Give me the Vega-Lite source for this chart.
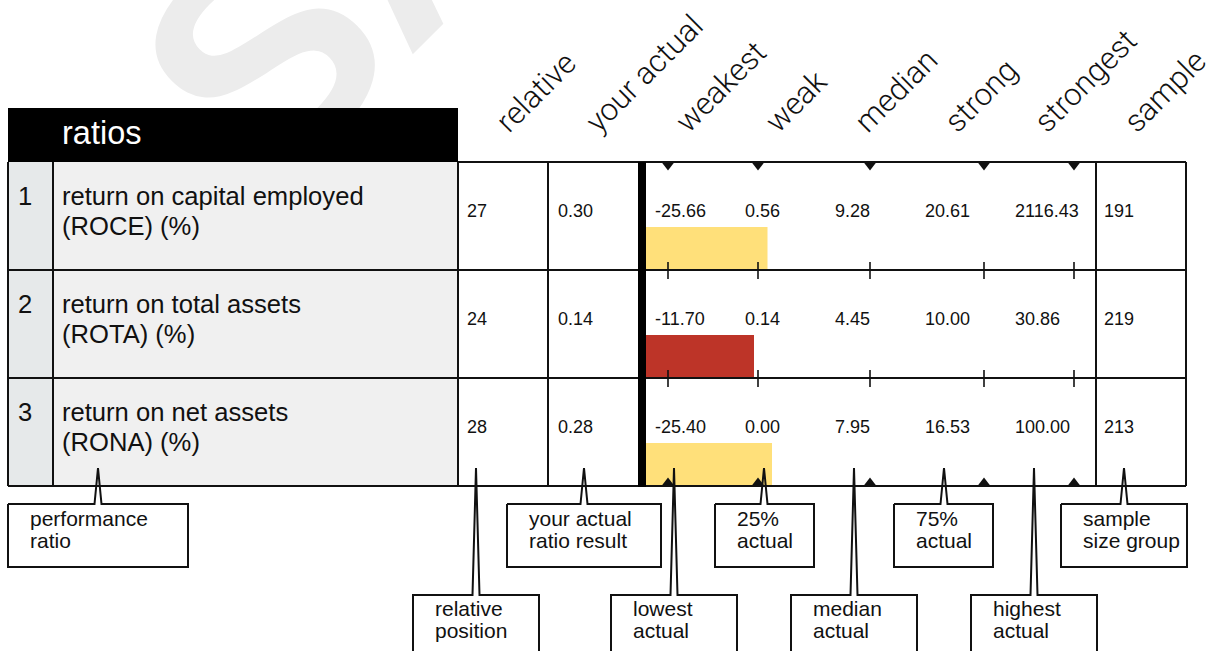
{
 "$schema": "https://vega.github.io/schema/vega-lite/v6.json",
 "width": 1215, "height": 651, "padding": 0,
 "autosize": {"type": "none"},
 "background": "#ffffff",
 "config": {"view": {"stroke": null}, "text": {"font": "Liberation Sans"}},
 "datasets": {
  "table": [
   {"row": 1, "num": "1", "label": "return on capital employed\n(ROCE) (%)", "relative": 27, "actual": "0.30", "weakest": "-25.66", "weak": "0.56", "median": "9.28", "strong": "20.61", "strongest": "2116.43", "sample": 191},
   {"row": 2, "num": "2", "label": "return on total assets\n(ROTA) (%)", "relative": 24, "actual": "0.14", "weakest": "-11.70", "weak": "0.14", "median": "4.45", "strong": "10.00", "strongest": "30.86", "sample": 219},
   {"row": 3, "num": "3", "label": "return on net assets\n(RONA) (%)", "relative": 28, "actual": "0.28", "weakest": "-25.40", "weak": "0.00", "median": "7.95", "strong": "16.53", "strongest": "100.00", "sample": 213}
  ],
  "callouts": [
   {"id":"perf","i":0,"x":8,"y":504},{"id":"perf","i":1,"x":94.5,"y":504},{"id":"perf","i":2,"x":98,"y":468},{"id":"perf","i":3,"x":101.5,"y":504},{"id":"perf","i":4,"x":188,"y":504},{"id":"perf","i":5,"x":188,"y":567},{"id":"perf","i":6,"x":8,"y":567},{"id":"perf","i":7,"x":8,"y":504},
   {"id":"act","i":0,"x":507,"y":504},{"id":"act","i":1,"x":580.5,"y":504},{"id":"act","i":2,"x":584,"y":468},{"id":"act","i":3,"x":587.5,"y":504},{"id":"act","i":4,"x":661,"y":504},{"id":"act","i":5,"x":661,"y":567},{"id":"act","i":6,"x":507,"y":567},{"id":"act","i":7,"x":507,"y":504},
   {"id":"p25","i":0,"x":715,"y":504},{"id":"p25","i":1,"x":760.5,"y":504},{"id":"p25","i":2,"x":764,"y":468},{"id":"p25","i":3,"x":767.5,"y":504},{"id":"p25","i":4,"x":814,"y":504},{"id":"p25","i":5,"x":814,"y":567},{"id":"p25","i":6,"x":715,"y":567},{"id":"p25","i":7,"x":715,"y":504},
   {"id":"p75","i":0,"x":894,"y":504},{"id":"p75","i":1,"x":940.5,"y":504},{"id":"p75","i":2,"x":944,"y":468},{"id":"p75","i":3,"x":947.5,"y":504},{"id":"p75","i":4,"x":993,"y":504},{"id":"p75","i":5,"x":993,"y":567},{"id":"p75","i":6,"x":894,"y":567},{"id":"p75","i":7,"x":894,"y":504},
   {"id":"samp","i":0,"x":1061,"y":504},{"id":"samp","i":1,"x":1120.5,"y":504},{"id":"samp","i":2,"x":1124,"y":468},{"id":"samp","i":3,"x":1127.5,"y":504},{"id":"samp","i":4,"x":1187,"y":504},{"id":"samp","i":5,"x":1187,"y":567},{"id":"samp","i":6,"x":1061,"y":567},{"id":"samp","i":7,"x":1061,"y":504},
   {"id":"rel","i":0,"x":413,"y":651},{"id":"rel","i":1,"x":413,"y":595},{"id":"rel","i":2,"x":472.5,"y":595},{"id":"rel","i":3,"x":476,"y":468},{"id":"rel","i":4,"x":479.5,"y":595},{"id":"rel","i":5,"x":539,"y":595},{"id":"rel","i":6,"x":539,"y":651},
   {"id":"low","i":0,"x":611,"y":651},{"id":"low","i":1,"x":611,"y":595},{"id":"low","i":2,"x":670.5,"y":595},{"id":"low","i":3,"x":674,"y":468},{"id":"low","i":4,"x":677.5,"y":595},{"id":"low","i":5,"x":737,"y":595},{"id":"low","i":6,"x":737,"y":651},
   {"id":"med","i":0,"x":791,"y":651},{"id":"med","i":1,"x":791,"y":595},{"id":"med","i":2,"x":850.5,"y":595},{"id":"med","i":3,"x":854,"y":468},{"id":"med","i":4,"x":857.5,"y":595},{"id":"med","i":5,"x":917,"y":595},{"id":"med","i":6,"x":917,"y":651},
   {"id":"high","i":0,"x":971,"y":651},{"id":"high","i":1,"x":971,"y":595},{"id":"high","i":2,"x":1030.5,"y":595},{"id":"high","i":3,"x":1034,"y":468},{"id":"high","i":4,"x":1037.5,"y":595},{"id":"high","i":5,"x":1097,"y":595},{"id":"high","i":6,"x":1097,"y":651}
  ]
 },
 "resolve": {"scale": {"x": "independent", "y": "independent", "color": "independent"}},
 "layer": [
  {
   "data": {"values": [{"w": "SAMPLE", "x": 266, "y": 201}]},
   "mark": {"type": "text", "angle": 315, "fontSize": 300, "fontWeight": "bold", "color": "#ececec", "align": "left", "baseline": "alphabetic"},
   "encoding": {
    "x": {"field": "x", "type": "quantitative", "scale": {"domain": [0,1215], "range": [0,1215], "nice": false, "zero": false}, "axis": null},
    "y": {"field": "y", "type": "quantitative", "scale": {"domain": [0,651], "range": [0,651], "nice": false, "zero": false}, "axis": null},
    "text": {"field": "w"}
   }
  },
  {
   "data": {"values": [
    {"part": "header", "x": 8, "x2": 458, "y": 108, "y2": 162},
    {"part": "num", "x": 8, "x2": 53, "y": 162, "y2": 486},
    {"part": "label", "x": 53, "x2": 458, "y": 162, "y2": 486}
   ]},
   "mark": {"type": "rect"},
   "encoding": {
    "x": {"field": "x", "type": "quantitative", "scale": {"domain": [0,1215], "range": [0,1215], "nice": false, "zero": false}, "axis": null},
    "x2": {"field": "x2"},
    "y": {"field": "y", "type": "quantitative", "scale": {"domain": [0,651], "range": [0,651], "nice": false, "zero": false}, "axis": null},
    "y2": {"field": "y2"},
    "color": {"field": "part", "type": "nominal", "scale": {"domain": ["header","num","label"], "range": ["#000000","#E6E9EA","#F0F0F0"]}, "legend": null}
   }
  },
  {
   "data": {"name": "table"},
   "mark": {"type": "bar"},
   "encoding": {
    "x": {"field": "relative", "type": "quantitative", "scale": {"domain": [0,100], "range": [646,1096], "nice": false, "zero": false}, "axis": null},
    "x2": {"datum": 0},
    "y": {"field": "row", "type": "ordinal", "scale": {"type": "band", "domain": [1,2,3], "range": [227,486], "paddingInner": 0.6019, "paddingOuter": 0}, "axis": null},
    "color": {"field": "relative", "type": "quantitative", "scale": {"type": "threshold", "domain": [25], "range": ["#BD3428","#FFE07A"]}, "legend": null}
   }
  },
  {
   "data": {"values": [
    {"x": 458, "x2": 1186, "y": 162, "y2": 162},
    {"x": 8, "x2": 1186, "y": 270, "y2": 270},
    {"x": 8, "x2": 1186, "y": 378, "y2": 378},
    {"x": 8, "x2": 1186, "y": 486, "y2": 486},
    {"x": 8, "x2": 8, "y": 162, "y2": 486},
    {"x": 53, "x2": 53, "y": 162, "y2": 486},
    {"x": 458, "x2": 458, "y": 162, "y2": 486},
    {"x": 548, "x2": 548, "y": 162, "y2": 486},
    {"x": 1096, "x2": 1096, "y": 162, "y2": 486},
    {"x": 1186, "x2": 1186, "y": 162, "y2": 486}
   ]},
   "mark": {"type": "rule", "strokeWidth": 2, "color": "#111111"},
   "encoding": {
    "x": {"field": "x", "type": "quantitative", "scale": {"domain": [0,1215], "range": [0,1215], "nice": false, "zero": false}, "axis": null},
    "x2": {"field": "x2"},
    "y": {"field": "y", "type": "quantitative", "scale": {"domain": [0,651], "range": [0,651], "nice": false, "zero": false}, "axis": null},
    "y2": {"field": "y2"}
   }
  },
  {
   "data": {"values": [{"x": 642, "y": 162, "y2": 487}]},
   "mark": {"type": "rule", "strokeWidth": 8, "color": "#000000"},
   "encoding": {
    "x": {"field": "x", "type": "quantitative", "scale": {"domain": [0,1215], "range": [0,1215], "nice": false, "zero": false}, "axis": null},
    "y": {"field": "y", "type": "quantitative", "scale": {"domain": [0,651], "range": [0,651], "nice": false, "zero": false}, "axis": null},
    "y2": {"field": "y2"}
   }
  },
  {
   "data": {"values": [
    {"x": 668, "y": 262, "y2": 279}, {"x": 758, "y": 262, "y2": 279}, {"x": 870, "y": 262, "y2": 279}, {"x": 984, "y": 262, "y2": 279}, {"x": 1074, "y": 262, "y2": 279},
    {"x": 668, "y": 370, "y2": 387}, {"x": 758, "y": 370, "y2": 387}, {"x": 870, "y": 370, "y2": 387}, {"x": 984, "y": 370, "y2": 387}, {"x": 1074, "y": 370, "y2": 387}
   ]},
   "mark": {"type": "rule", "strokeWidth": 1.6, "color": "#111111"},
   "encoding": {
    "x": {"field": "x", "type": "quantitative", "scale": {"domain": [0,1215], "range": [0,1215], "nice": false, "zero": false}, "axis": null},
    "y": {"field": "y", "type": "quantitative", "scale": {"domain": [0,651], "range": [0,651], "nice": false, "zero": false}, "axis": null},
    "y2": {"field": "y2"}
   }
  },
  {
   "data": {"values": [{"x": 668, "y": 162}, {"x": 758, "y": 162}, {"x": 870, "y": 162}, {"x": 984, "y": 162}, {"x": 1074, "y": 162}]},
   "mark": {"type": "point", "shape": "M-1,0L1,0L0,1.3Z", "size": 170, "filled": true, "opacity": 1, "color": "#111111", "strokeWidth": 0},
   "encoding": {
    "x": {"field": "x", "type": "quantitative", "scale": {"domain": [0,1215], "range": [0,1215], "nice": false, "zero": false}, "axis": null},
    "y": {"field": "y", "type": "quantitative", "scale": {"domain": [0,651], "range": [0,651], "nice": false, "zero": false}, "axis": null}
   }
  },
  {
   "data": {"values": [{"x": 668, "y": 486}, {"x": 758, "y": 486}, {"x": 870, "y": 486}, {"x": 984, "y": 486}, {"x": 1074, "y": 486}]},
   "mark": {"type": "point", "shape": "M-1,0L1,0L0,-1.3Z", "size": 170, "filled": true, "opacity": 1, "color": "#111111", "strokeWidth": 0},
   "encoding": {
    "x": {"field": "x", "type": "quantitative", "scale": {"domain": [0,1215], "range": [0,1215], "nice": false, "zero": false}, "axis": null},
    "y": {"field": "y", "type": "quantitative", "scale": {"domain": [0,651], "range": [0,651], "nice": false, "zero": false}, "axis": null}
   }
  },
  {
   "data": {"name": "table"},
   "transform": [{"fold": ["weakest","weak","median","strong","strongest"], "as": ["stat","value"]}],
   "mark": {"type": "text", "align": "left", "baseline": "middle", "fontSize": 18, "dy": -4, "color": "#111111"},
   "encoding": {
    "x": {"field": "stat", "type": "nominal", "scale": {"type": "point", "domain": ["weakest","weak","median","strong","strongest"], "range": [655,1015], "padding": 0}, "axis": null},
    "y": {"field": "row", "type": "ordinal", "scale": {"type": "point", "domain": [1,2,3], "range": [216,432], "padding": 0}, "axis": null},
    "text": {"field": "value", "type": "nominal"}
   }
  },
  {
   "data": {"name": "table"},
   "transform": [{"fold": ["relative","actual","sample"], "as": ["col","value"]}],
   "mark": {"type": "text", "align": "left", "baseline": "middle", "fontSize": 18, "dy": -4, "color": "#111111"},
   "encoding": {
    "x": {"field": "col", "type": "nominal", "scale": {"type": "point", "domain": ["relative","actual","weakest","weak","median","strong","strongest","sample"], "range": [467,1104], "padding": 0}, "axis": null},
    "y": {"field": "row", "type": "ordinal", "scale": {"type": "point", "domain": [1,2,3], "range": [216,432], "padding": 0}, "axis": null},
    "text": {"field": "value", "type": "nominal"}
   }
  },
  {
   "data": {"name": "table"},
   "transform": [{"fold": ["num","label"], "as": ["col","txt"]}],
   "mark": {"type": "text", "align": "left", "baseline": "alphabetic", "fontSize": 25.6, "lineHeight": 30, "lineBreak": "\n", "color": "#111111"},
   "encoding": {
    "x": {"field": "col", "type": "nominal", "scale": {"type": "point", "domain": ["num","label"], "range": [18,62], "padding": 0}, "axis": null},
    "y": {"field": "row", "type": "ordinal", "scale": {"type": "point", "domain": [1,2,3], "range": [205,421], "padding": 0}, "axis": null},
    "text": {"field": "txt", "type": "nominal"}
   }
  },
  {
   "data": {"values": [{"t": "ratios", "x": 62, "y": 144}]},
   "mark": {"type": "text", "align": "left", "baseline": "alphabetic", "fontSize": 32.5, "color": "#ffffff"},
   "encoding": {
    "x": {"field": "x", "type": "quantitative", "scale": {"domain": [0,1215], "range": [0,1215], "nice": false, "zero": false}, "axis": null},
    "y": {"field": "y", "type": "quantitative", "scale": {"domain": [0,651], "range": [0,651], "nice": false, "zero": false}, "axis": null},
    "text": {"field": "t"}
   }
  },
  {
   "data": {"values": [{"h": "relative"},{"h": "your actual"},{"h": "weakest"},{"h": "weak"},{"h": "median"},{"h": "strong"},{"h": "strongest"},{"h": "sample"}]},
   "mark": {"type": "text", "align": "left", "baseline": "alphabetic", "angle": 315, "fontSize": 31, "font": "Roboto", "fontWeight": 300, "color": "#111111"},
   "encoding": {
    "x": {"field": "h", "type": "nominal", "scale": {"type": "point", "domain": ["relative","your actual","weakest","weak","median","strong","strongest","sample"], "range": [509,1137], "padding": 0}, "axis": null},
    "y": {"datum": 134, "type": "quantitative", "scale": {"domain": [0,651], "range": [0,651], "nice": false, "zero": false}, "axis": null},
    "text": {"field": "h"}
   }
  },
  {
   "data": {"name": "callouts"},
   "mark": {"type": "line", "strokeWidth": 2, "color": "#111111", "interpolate": "linear"},
   "encoding": {
    "x": {"field": "x", "type": "quantitative", "scale": {"domain": [0,1215], "range": [0,1215], "nice": false, "zero": false}, "axis": null},
    "y": {"field": "y", "type": "quantitative", "scale": {"domain": [0,651], "range": [0,651], "nice": false, "zero": false}, "axis": null},
    "detail": {"field": "id"},
    "order": {"field": "i", "type": "quantitative"}
   }
  },
  {
   "data": {"values": [
    {"t": "performance\nratio", "x": 30, "y": 526},
    {"t": "your actual\nratio result", "x": 529, "y": 526},
    {"t": "25%\nactual", "x": 737, "y": 526},
    {"t": "75%\nactual", "x": 916, "y": 526},
    {"t": "sample\nsize group", "x": 1083, "y": 526},
    {"t": "relative\nposition", "x": 435, "y": 616},
    {"t": "lowest\nactual", "x": 633, "y": 616},
    {"t": "median\nactual", "x": 813, "y": 616},
    {"t": "highest\nactual", "x": 993, "y": 616}
   ]},
   "mark": {"type": "text", "align": "left", "baseline": "alphabetic", "fontSize": 21, "lineHeight": 21.5, "lineBreak": "\n", "color": "#111111"},
   "encoding": {
    "x": {"field": "x", "type": "quantitative", "scale": {"domain": [0,1215], "range": [0,1215], "nice": false, "zero": false}, "axis": null},
    "y": {"field": "y", "type": "quantitative", "scale": {"domain": [0,651], "range": [0,651], "nice": false, "zero": false}, "axis": null},
    "text": {"field": "t"}
   }
  }
 ]
}
